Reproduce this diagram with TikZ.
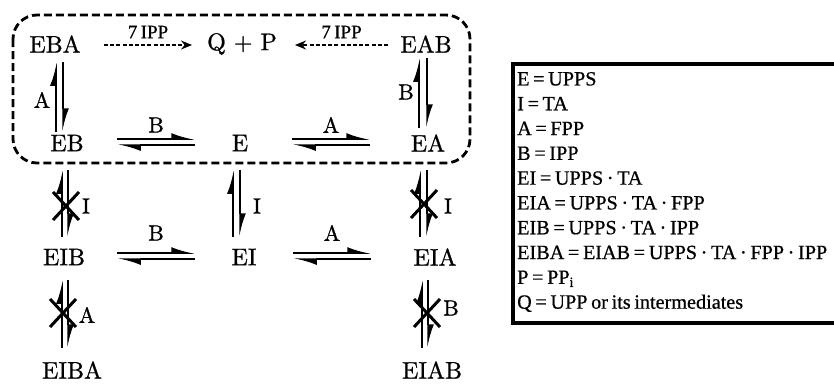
\documentclass[tikz,border=0pt]{standalone}
\usepackage{fontspec}
\newfontfamily\lgfont{Liberation Serif}[FakeBold=0.6, WordSpace=0.72]
\newfontfamily\spfont{lmroman10-regular.otf}[FakeBold=0.9]
\usetikzlibrary{arrows.meta}
\tikzset{
  species/.style={inner sep=0pt, font=\spfont\fontsize{24}{28}\selectfont},
  steplabel/.style={inner sep=0pt, font=\spfont\fontsize{22}{26}\selectfont},
  ipplabel/.style={inner sep=0pt, font=\lgfont\fontsize{19}{21}\selectfont},
  hp/.style={line width=1.5pt, -{Latex[harpoon,length=20pt,width=12pt]}},
  turnover/.style={line width=1.5pt, dash pattern=on 4pt off 2.2pt,
    -{Stealth[length=11pt,width=9pt]}},
  blocked/.style={line width=3pt},
  cycle/.style={line width=2.8pt, dash pattern=on 8pt off 4pt, rounded corners=24pt},
}
\begin{document}
\begin{tikzpicture}[x=1pt,y=-1pt]
\useasboundingbox (0,0) rectangle (834,384);

% species
\node[species] (EBA)  at (55,44)  {EBA};
\node[species] (QP)   at (242,44) {Q + P};
\node[species] (EAB)  at (426,44) {EAB};
\node[species] (EB)   at (67,143) {EB};
\node[species] (E)    at (240,143) {E};
\node[species] (EA)   at (428,143) {EA};
\node[species] (EIB)  at (64,257) {EIB};
\node[species] (EI)   at (244,257) {EI};
\node[species] (EIA)  at (435,257) {EIA};
\node[species] (EIBA) at (72,370) {EIBA};
\node[species] (EIAB) at (432,370) {EIAB};

% catalytic region
\draw[cycle] (13,15) rectangle (470,163);

% product release
\draw[turnover] ([shift={(49,1)}]EBA.center) -- ([shift={(-50,1)}]QP.center)
  node[ipplabel, midway, yshift=13pt] (ipp1) {7 IPP};
\draw[turnover] ([shift={(-38,1)}]EAB.center) -- ([shift={(53,1)}]QP.center)
  node[ipplabel, midway, yshift=13pt] (ipp2) {7 IPP};

% horizontal equilibria
\draw[hp] ([shift={(50,-4)}]EB.center) -- ([shift={(-45,-4)}]E.center)
  node[steplabel, midway, yshift=14pt] (lb1) {B};
\draw[hp] ([shift={(-45,2)}]E.center) -- ([shift={(50,2)}]EB.center);
\draw[hp] ([shift={(52,-4)}]E.center) -- ([shift={(-58,-4)}]EA.center)
  node[steplabel, midway, yshift=14pt] (la1) {A};
\draw[hp] ([shift={(-58,2)}]EA.center) -- ([shift={(52,2)}]E.center);
\draw[hp] ([shift={(53,-4)}]EIB.center) -- ([shift={(-49,-4)}]EI.center)
  node[steplabel, midway, yshift=20pt] (lb2) {B};
\draw[hp] ([shift={(-49,2)}]EI.center) -- ([shift={(53,2)}]EIB.center);
\draw[hp] ([shift={(49,-4)}]EI.center) -- ([shift={(-64,-4)}]EIA.center)
  node[steplabel, midway, yshift=20pt] (la2) {A};
\draw[hp] ([shift={(-64,2)}]EIA.center) -- ([shift={(49,2)}]EI.center);

% vertical equilibria
\draw[hp] ([shift={(-11,-11)}]EB.center) -- ([shift={(1,18)}]EBA.center);
\draw[hp] ([shift={(8,18)}]EBA.center) -- ([shift={(-4,-11)}]EB.center);
\draw[hp] ([shift={(-9,-15)}]EA.center) -- ([shift={(-7,14)}]EAB.center);
\draw[hp] ([shift={(1,14)}]EAB.center) -- ([shift={(-1,-15)}]EA.center);

\draw[hp] ([shift={(-2,-20)}]EIB.center) -- ([shift={(-5,27)}]EB.center);
\draw[hp] ([shift={(1,27)}]EB.center) -- ([shift={(4,-20)}]EIB.center);
\draw[hp] ([shift={(-11,-20)}]EI.center) -- ([shift={(-7,27)}]E.center);
\draw[hp] ([shift={(0,27)}]E.center) -- ([shift={(-4,-20)}]EI.center);
\draw[hp] ([shift={(-15,-20)}]EIA.center) -- ([shift={(-8,27)}]EA.center);
\draw[hp] ([shift={(-1,27)}]EA.center) -- ([shift={(-8,-20)}]EIA.center);

\draw[hp] ([shift={(-10,-22)}]EIBA.center) -- ([shift={(-2,23)}]EIB.center);
\draw[hp] ([shift={(4,23)}]EIB.center) -- ([shift={(-4,-22)}]EIBA.center);
\draw[hp] ([shift={(-10,-22)}]EIAB.center) -- ([shift={(-13,23)}]EIA.center);
\draw[hp] ([shift={(-7,23)}]EIA.center) -- ([shift={(-4,-22)}]EIAB.center);

% labels of the vertical steps
\node[steplabel] (lA1) at (42,100) {A};
\node[steplabel] (lB1) at (406,92) {B};
\node[steplabel] (lI1) at (86,206) {I};
\node[steplabel] (lI2) at (257,206) {I};
\node[steplabel] (lI3) at (448,206) {I};
\node[steplabel] (lA2) at (87,315) {A};
\node[steplabel] (lB2) at (451,308) {B};

% blocked steps
\foreach \cx/\cy in {66/206, 424/204, 63/313, 427/313}{
  \draw[blocked] (\cx-13,\cy-14) -- (\cx+13,\cy+14);
  \draw[blocked] (\cx+13,\cy-14) -- (\cx-13,\cy+14);
}

% legend
\draw[line width=3.5pt] (838,64) -- (513,64) -- (513,323) -- (838,323);
\node[anchor=west, inner sep=0pt, align=left,
      font=\lgfont\fontsize{20.2}{24.8}\selectfont] (legend) at (517,192) {%
E = UPPS\\
I = TA\\
A = FPP\\
B = IPP\\
EI = UPPS · TA\\
EIA = UPPS · TA · FPP\\
EIB = UPPS · TA · IPP\\
EIBA = EIAB = UPPS · TA · FPP · IPP\\
P = PP\textsubscript{i}\\
Q = UPP or its intermediates};
\end{tikzpicture}
\end{document}
